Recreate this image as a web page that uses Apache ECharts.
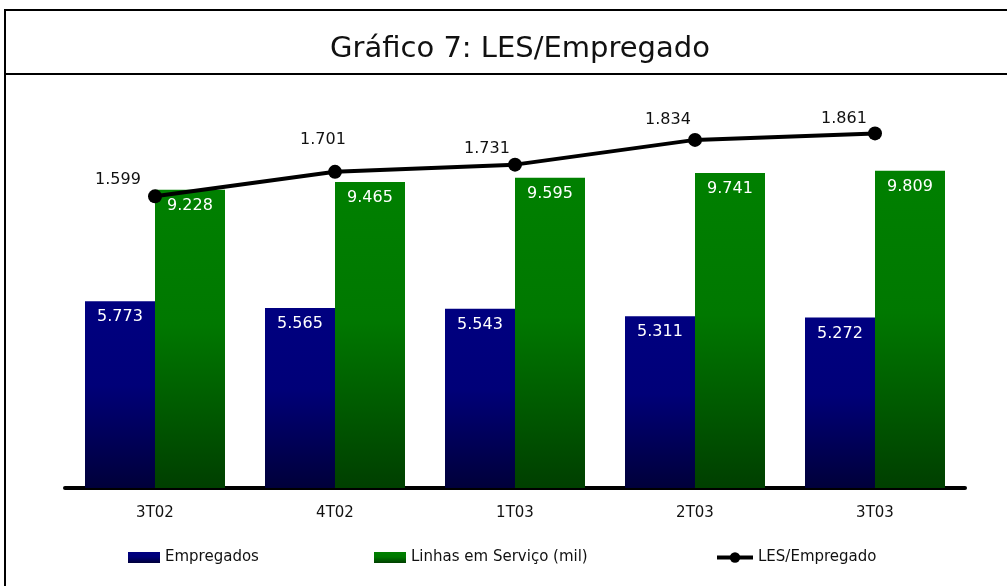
<!DOCTYPE html>
<html>
<head>
<meta charset="utf-8">
<title>Gráfico 7</title>
<script src="https://cdn.jsdelivr.net/npm/echarts@6/dist/echarts.min.js"></script>
<style>
  html,body{margin:0;padding:0;background:#fff;}
  #chart{width:1007px;height:586px;}
</style>
</head>
<body>
<div id="chart"></div>
<script>
var categories = ['3T02', '4T02', '1T03', '2T03', '3T03'];
var empregados = [5.773, 5.565, 5.543, 5.311, 5.272];
var linhas = [9.228, 9.465, 9.595, 9.741, 9.809];
var lesEmpregado = [1.599, 1.701, 1.731, 1.834, 1.861];

var FONT = 'DejaVu Sans';
// label nudges for the line values, as placed in the original
var lesOffsets = [[-37, 5], [-12, -11], [-28, 5], [-27, 1], [-31, 6]];

var blueGrad = new echarts.graphic.LinearGradient(0, 0, 0, 1, [
  {offset: 0, color: '#000080'}, {offset: 0.45, color: '#000078'}, {offset: 1, color: '#00003a'}
]);
var greenGrad = new echarts.graphic.LinearGradient(0, 0, 0, 1, [
  {offset: 0, color: '#008000'}, {offset: 0.45, color: '#007800'}, {offset: 1, color: '#003f00'}
]);

var barLabel = {
  show: true, position: 'insideTop', distance: 8,
  color: '#fff', fontFamily: FONT, fontSize: 16,
  formatter: function (p) { return p.value.toFixed(3); }
};

var legendText = {fontFamily: FONT, fontSize: 15, color: '#111'};

var chart = echarts.init(document.getElementById('chart'));
chart.setOption({
  animation: false,
  title: {
    text: 'Gráfico 7: LES/Empregado',
    left: 515, top: 30, textAlign: 'center',
    textStyle: {fontFamily: FONT, fontSize: 29, fontWeight: 'normal', color: '#111'}
  },
  graphic: [
    {type: 'rect', shape: {x: 5, y: 10, width: 1010, height: 600},
     style: {fill: 'none', stroke: '#000', lineWidth: 2}},
    {type: 'line', shape: {x1: 5, y1: 74, x2: 1010, y2: 74},
     style: {stroke: '#000', lineWidth: 2}}
  ],
  legend: [
    {left: 128, top: 550, padding: 0, itemGap: 5, itemWidth: 32, itemHeight: 11,
     icon: 'rect', data: ['Empregados'], textStyle: legendText},
    {left: 374, top: 550, padding: 0, itemGap: 5, itemWidth: 32, itemHeight: 11,
     icon: 'rect', data: ['Linhas em Serviço (mil)'], textStyle: legendText},
    {left: 715, top: 550, padding: 0, itemGap: 3, itemWidth: 36, itemHeight: 13,
     data: ['LES/Empregado'], textStyle: legendText,
     lineStyle: {width: 4, color: '#000'}}
  ],
  grid: {left: 65, right: 42, top: 100, bottom: 98, containLabel: false},
  xAxis: {
    type: 'category', data: categories, boundaryGap: true,
    axisLine: {lineStyle: {color: '#000', width: 4, cap: 'round'}},
    axisTick: {show: false},
    axisLabel: {fontFamily: FONT, fontSize: 15, color: '#111', margin: 18}
  },
  yAxis: [
    {type: 'value', min: 0, max: 12, show: false},
    {type: 'value', min: 0.385, max: 2.0, show: false}
  ],
  series: [
    {name: 'Empregados', type: 'bar', barWidth: 70, barGap: '0%',
     itemStyle: {color: blueGrad}, label: barLabel, data: empregados},
    {name: 'Linhas em Serviço (mil)', type: 'bar', barWidth: 70,
     itemStyle: {color: greenGrad}, label: barLabel, data: linhas},
    {name: 'LES/Empregado', type: 'line', yAxisIndex: 1,
     symbol: 'circle', symbolSize: 14, z: 5,
     lineStyle: {color: '#000', width: 4},
     itemStyle: {color: '#000'},
     data: lesEmpregado.map(function (v, i) {
       return {value: v, label: {offset: lesOffsets[i]}};
     }),
     label: {show: true, position: 'top', distance: 6,
       color: '#111', fontFamily: FONT, fontSize: 16,
       formatter: function (p) { return p.value.toFixed(3); }}}
  ]
});
</script>
</body>
</html>
